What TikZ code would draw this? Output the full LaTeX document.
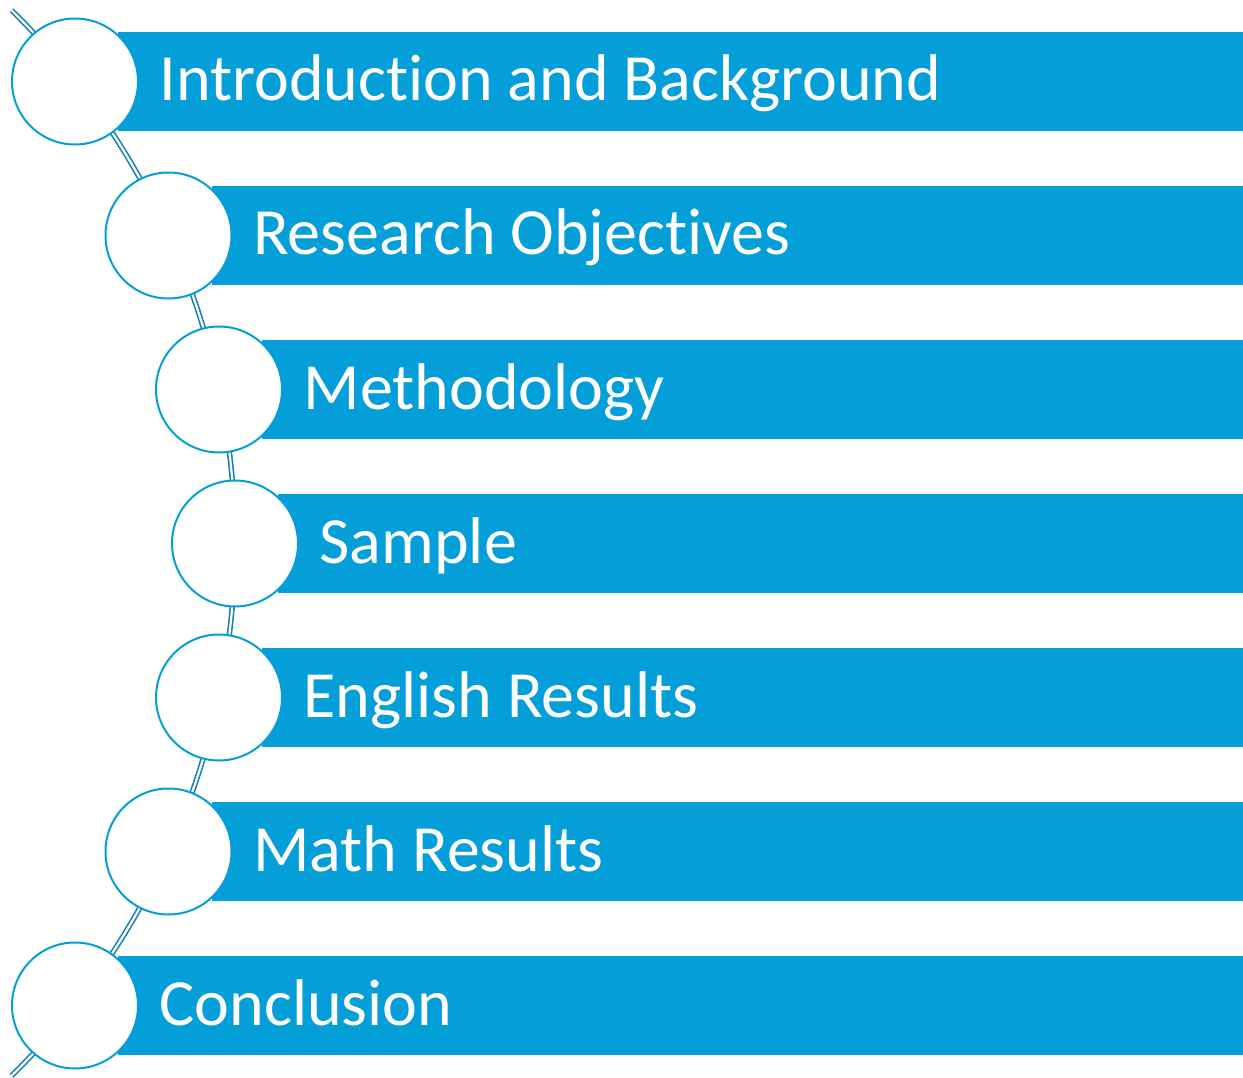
\documentclass[tikz,border=0pt]{standalone}
\usepackage{fontspec}
\setmainfont{Carlito}[Ligatures=NoCommon, RawFeature={-liga;-clig;-dlig}]
% break the t-i pair so it is set as two letters
\newcommand{\tisplit}{t\kern0pt i}
\begin{document}
\begin{tikzpicture}[x=1pt,y=-1pt,
  barfill/.style={fill=listblue, draw=none},
  bullet/.style={circle, draw=listblue, line width=2pt, fill=white, minimum size=126pt, inner sep=0pt},
  label/.style={anchor=base west, text=white, inner sep=0pt, font=\fontsize{66}{66}\selectfont},
  spine/.style={draw=spineblue, line width=1.6pt, double=white, double distance=2.2pt}]
\definecolor{listblue}{RGB}{4,158,216}
\definecolor{spineblue}{RGB}{22,128,182}
\useasboundingbox (0,0) rectangle (1243,1078);

% curved spine behind the bullets
\draw[spine] (-512,543) ++(-45.5:747) arc[start angle=-45.5, end angle=45.5, radius=747];

% bars, bullets and labels
\foreach \i/\cx/\txt in {0/75/Introduc\tisplit on and Background,
                         1/168.5/Research Objec\tisplit ves,
                         2/219/Methodology,
                         3/235/Sample,
                         4/219/English Results,
                         5/168.5/Math Results,
                         6/75/Conclusion}{
  \pgfmathsetmacro{\cy}{81.5+154*\i}
  \fill[barfill] (\cx+43,\cy-49.5) rectangle (1243,\cy+49.5);
  \node[bullet] (b\i) at (\cx,\cy) {};
  \node[label] (t\i) at (\cx+84.5,\cy+19.5) {\txt};
}
\end{tikzpicture}
\end{document}
